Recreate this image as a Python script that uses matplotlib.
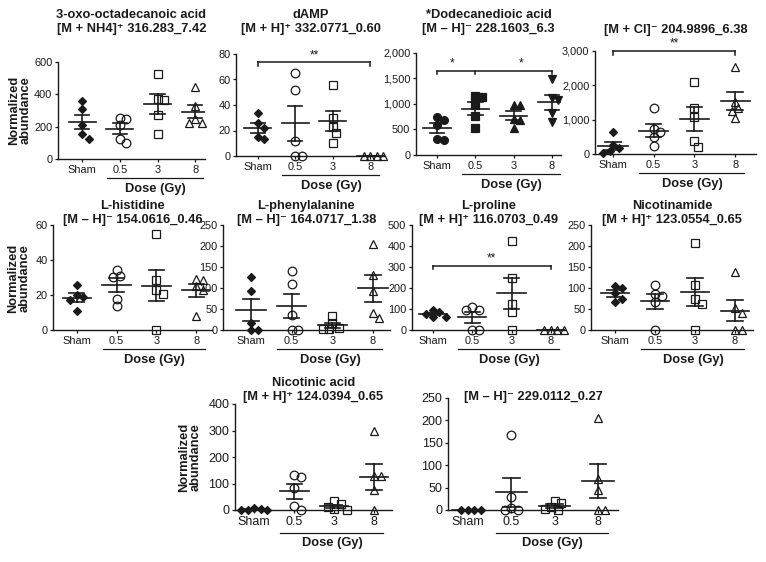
import numpy as np
import matplotlib.pyplot as plt
import matplotlib.transforms as mtransforms

plt.rcParams['font.family'] = ['Liberation Sans', 'DejaVu Sans']

groups = ['Sham', '0.5', '3', '8']

titles = [
    '3-oxo-octadecanoic acid\n[M + NH4]\u207a 316.283_7.42',
    'dAMP\n[M + H]\u207a 332.0771_0.60',
    '*Dodecanedioic acid\n[M \u2013 H]\u207b 228.1603_6.3',
    '[M + Cl]\u207b 204.9896_6.38',
    'L-histidine\n[M \u2013 H]\u207b 154.0616_0.46',
    'L-phenylalanine\n[M \u2013 H]\u207b 164.0717_1.38',
    'L-proline\n[M + H]\u207a 116.0703_0.49',
    'Nicotinamide\n[M + H]\u207a 123.0554_0.65',
    'Nicotinic acid\n[M + H]\u207a 124.0394_0.65',
    '[M \u2013 H]\u207b 229.0112_0.27',
]

# values per group: Sham, 0.5, 3, 8 Gy
oxo = [[357, 309, 208, 155, 124], [254, 250, 210, 100, 125],
       [528, 370, 367, 275, 152], [445, 330, 250, 222, 222]]
damp = [[34, 26, 22, 15, 13], [65, 52, 12, 0, 0],
        [56, 30, 23, 18, 10], [0, 0, 0, 0]]
dodec = [[740, 690, 590, 310, 300], [1157, 1131, 980, 765, 523],
         [980, 980, 700, 680, 520], [1484, 1111, 1085, 818, 654]]
chloride = [[637, 251, 174, 80, 30], [1330, 720, 640, 500, 220],
            [2083, 1331, 1090, 366, 193], [2536, 1505, 1331, 1264, 1042]]
histidine = [[25.7, 20, 19, 17, 11], [34.3, 31, 30.5, 18, 13.9],
             [54.9, 28.6, 22.9, 20.4, 0], [29, 28.6, 25.1, 22.9, 8.2]]
phenylalanine = [[127, 94, 16, 0, 0], [140, 110, 36, 0, 0],
                 [33, 16, 5, 2, 2], [205, 132, 93, 41, 28]]
proline = [[95, 87, 75, 63, 63], [108, 95, 95, 0, 0],
           [425, 246, 122, 87, 0], [0, 0, 0, 0]]
nicotinamide = [[105, 101, 87, 75, 67], [107, 86, 80, 67, 0],
                [206, 107, 75, 63, 0], [137, 53, 40, 0, 0]]
nicotinic = [[8, 2, 1, 1, 0], [132, 123, 82, 15, 0],
             [34, 21, 13, 3, 0], [298, 128, 128, 75, 0]]
unknown229 = [[0, 0, 0, 0], [167, 28, 4, 0, 0],
              [21, 15, 7, 3, 0], [206, 70, 45, 0, 0]]

panel_data = [oxo, damp, dodec, chloride, histidine, phenylalanine,
              proline, nicotinamide, nicotinic, unknown229]
yticks = [[0, 200, 400, 600], [0, 20, 40, 60, 80], [0, 500, 1000, 1500, 2000],
          [0, 1000, 2000, 3000], [0, 20, 40, 60], [0, 50, 100, 150, 200, 250],
          [0, 100, 200, 300, 400, 500], [0, 50, 100, 150, 200, 250],
          [0, 100, 200, 300, 400], [0, 50, 100, 150, 200, 250]]

# layout in pixels: left, right, top, bottom of axes, xlim
W, H = 766, 562
rects = [(58, 205, 62, 159), (236, 385, 54, 156), (416, 561, 53, 155),
         (595, 756, 51, 154), (53, 212, 225, 330), (223, 390, 225, 330),
         (412, 565, 225, 330), (591, 753, 225, 330), (235, 392, 404, 510),
         (448, 618, 398, 510)]
xlims = [(-0.64, 3.26), (-0.58, 3.39), (-0.55, 3.24), (-0.44, 3.51),
         (-0.6, 3.4), (-0.69, 3.42), (-0.53, 3.36), (-0.6, 3.45),
         (-0.48, 3.45), (-0.46, 3.46)]
title_y = [22, 22, 22, 30, 213, 213, 213, 213, 390, 397]

ink = '#1a1a1a'
open_markers = [('D', True, 4.4), ('o', False, 6.2), ('s', False, 5.8), ('^', False, 6.2)]
filled_markers = [('o', True, 5.6), ('s', True, 5.4), ('^', True, 6.2), ('v', True, 6.2)]


def swarm(vals, yr, h_px, sp_px, d=6.5):
    ypx = (np.asarray(vals, float) - yr[0]) / (yr[1] - yr[0]) * h_px
    offs = np.zeros(len(vals))
    placed = []
    cands = [0.0]
    for k in range(1, 12):
        cands += [k * d / 2, -k * d / 2]
    for i in np.argsort(-ypx, kind='stable'):
        for c in cands:
            if all(np.hypot(c - px, ypx[i] - py) >= d for px, py in placed):
                break
        placed.append((c, ypx[i]))
        offs[i] = c / sp_px
    return offs


def bracket(ax, y, xs, stars, ytop):
    dy = ytop * 0.035
    ax.plot([xs[0], xs[-1]], [y, y], color=ink, lw=1.1, clip_on=False)
    for x in xs:
        ax.plot([x, x], [y, y - dy], color=ink, lw=1.1, clip_on=False)
    for sx, s in stars:
        ax.text(sx, y + dy * 0.3, s, ha='center', va='bottom', fontsize=8.5,
                color=ink, clip_on=False)


fig = plt.figure(figsize=(W / 100, H / 100), dpi=100)

for p, data in enumerate(panel_data):
    l, r, t, b = rects[p]
    ax = fig.add_axes([l / W, 1 - b / H, (r - l) / W, (b - t) / H])
    yr = (0, yticks[p][-1])
    ax.set_xlim(*xlims[p])
    ax.set_ylim(*yr)
    sp_px = (r - l) / (xlims[p][1] - xlims[p][0])
    markers = filled_markers if p == 2 else open_markers

    for g, vals in enumerate(data):
        vals = np.asarray(vals, float)
        xs = g + swarm(vals, yr, b - t, sp_px)
        m, filled, ms = markers[g]
        ax.plot(xs, vals, ls='none', marker=m, ms=ms, mew=0.9, mec=ink,
                mfc=ink if filled else 'none', clip_on=False, zorder=3)
        mean = vals.mean()
        sem = vals.std(ddof=1) / np.sqrt(len(vals))
        ax.plot([g - 0.36, g + 0.36], [mean, mean], color=ink, lw=1.2, zorder=4)
        ax.plot([g, g], [mean - sem, mean + sem], color=ink, lw=1.2, zorder=4)
        for yy in (mean - sem, mean + sem):
            ax.plot([g - 0.19, g + 0.19], [yy, yy], color=ink, lw=1.2, zorder=4)

    ax.spines[['top', 'right']].set_visible(False)
    for s in ('left', 'bottom'):
        ax.spines[s].set_linewidth(1.0)
        ax.spines[s].set_color(ink)
    tick_fs = 9 if p >= 8 else 7.9
    ax.set_xticks(range(4))
    ax.set_xticklabels(groups)
    ax.set_yticks(yticks[p])
    if yticks[p][-1] >= 1000:
        ax.set_yticklabels([f'{v:,}' for v in yticks[p]])
    ax.tick_params(length=2.5, width=0.9, colors=ink, labelsize=tick_fs, pad=1.5)

    # underline and axis name
    off_line = 23 if p >= 8 else 19
    off_lab = 33 if p >= 8 else 30
    tr = ax.get_xaxis_transform() + mtransforms.ScaledTranslation(
        0, -off_line / 100, fig.dpi_scale_trans)
    ax.plot([0.65, 3.22], [0, 0], transform=tr, color=ink, lw=0.9, clip_on=False)
    tr2 = ax.get_xaxis_transform() + mtransforms.ScaledTranslation(
        0, -off_lab / 100, fig.dpi_scale_trans)
    ax.text(1.95, 0, 'Dose (Gy)', transform=tr2, ha='center', va='center',
            fontsize=9.3, fontweight='bold', color=ink)

    fig.text((l + r) / 2 / W, 1 - title_y[p] / H, titles[p], ha='center',
             va='center', fontsize=9.3, fontweight='bold', color=ink,
             linespacing=1.15)

    if p == 1:
        bracket(ax, 73.5, [0, 3], [(1.5, '**')], 80)
    elif p == 2:
        bracket(ax, 1650, [0, 1, 3], [(0.4, '*'), (2.2, '*')], 2000)
    elif p == 3:
        bracket(ax, 3000, [0, 3], [(1.5, '**')], 3000)
    elif p == 6:
        bracket(ax, 306, [0, 3], [(1.5, '**')], 500)

for x, y in [(20, 110), (19, 278), (190, 457)]:
    fig.text(x / W, 1 - y / H, 'Normalized\nabundance', rotation=90,
             ha='center', va='center', fontsize=9.3, fontweight='bold',
             color=ink, linespacing=1.0)

fig.savefig('out.png', dpi=100)
